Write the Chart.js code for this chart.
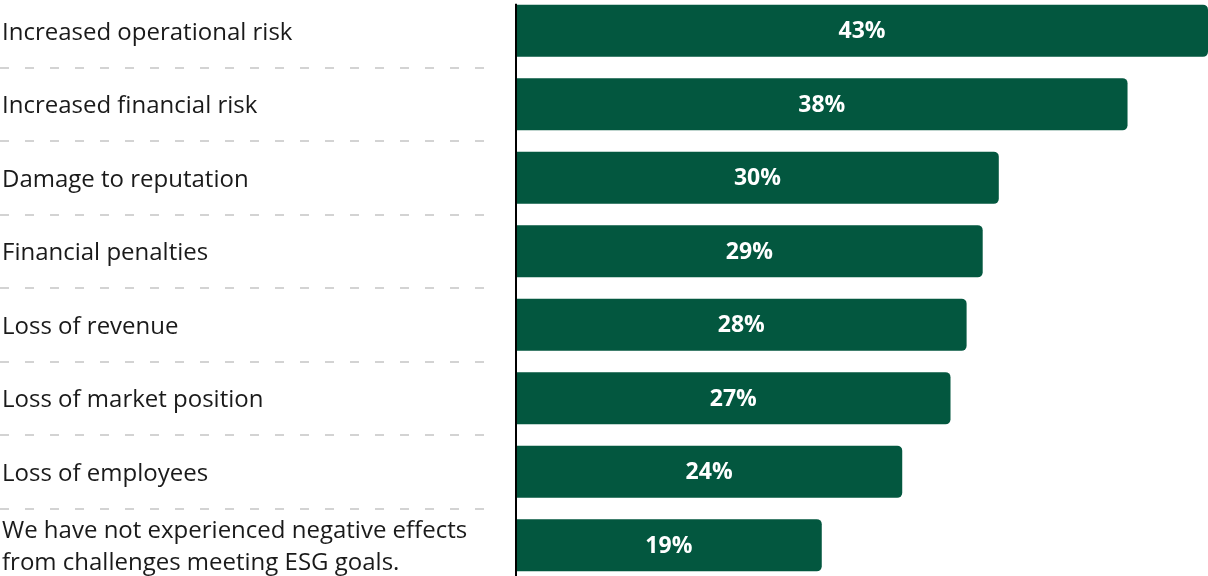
<!DOCTYPE html>
<html>
<head>
<meta charset="utf-8">
<script src="https://cdn.jsdelivr.net/npm/chart.js@4.4.0/dist/chart.umd.min.js"></script>
<style>
  html, body { margin: 0; padding: 0; background: #fff; overflow: hidden; }
  #wrap { position: absolute; left: 0; top: -6px; width: 1208px; height: 588px; }
</style>
</head>
<body>
<div id="wrap"><canvas id="chart"></canvas></div>
<script>
const categories = [
  'Increased operational risk',
  'Increased financial risk',
  'Damage to reputation',
  'Financial penalties',
  'Loss of revenue',
  'Loss of market position',
  'Loss of employees',
  ['We have not experienced negative effects', 'from challenges meeting ESG goals.']
];
const values = [43, 38, 30, 29, 28, 27, 24, 19];

const barColor = '#03573f';

// dashed separators in the label column + axis line + value labels
const extras = {
  id: 'extras',
  afterDatasetsDraw(chart) {
    const ctx = chart.ctx;
    const y = chart.scales.y;
    const meta = chart.getDatasetMeta(0);
    ctx.save();
    ctx.strokeStyle = '#d3d3d3';
    ctx.lineWidth = 2;
    ctx.setLineDash([9, 16]);
    for (let i = 0; i < categories.length - 1; i++) {
      const yy = Math.round((y.getPixelForValue(i) + y.getPixelForValue(i + 1)) / 2);
      ctx.beginPath();
      ctx.moveTo(0, yy);
      ctx.lineTo(496, yy);
      ctx.stroke();
    }
    ctx.setLineDash([]);

    // axis line
    const first = meta.data[0];
    const top = first.y - first.height / 2 - 1;
    ctx.strokeStyle = '#000';
    ctx.lineWidth = 2;
    ctx.beginPath();
    ctx.moveTo(chart.chartArea.left, top);
    ctx.lineTo(chart.chartArea.left, chart.chartArea.bottom);
    ctx.stroke();

    // value labels
    ctx.fillStyle = '#fff';
    ctx.font = 'bold 23px "Open Sans"';
    ctx.textAlign = 'center';
    ctx.textBaseline = 'middle';
    meta.data.forEach((bar, i) => {
      ctx.fillText(values[i] + '%', (bar.base + bar.x) / 2, bar.y + 1);
    });
    ctx.restore();
  }
};

new Chart(document.getElementById('chart'), {
  type: 'bar',
  data: {
    labels: categories,
    datasets: [{
      data: values,
      backgroundColor: barColor,
      borderRadius: { topLeft: 0, bottomLeft: 0, topRight: 5, bottomRight: 5 },
      borderSkipped: false,
      categoryPercentage: 1,
      barPercentage: 0.71
    }]
  },
  options: {
    indexAxis: 'y',
    responsive: true,
    maintainAspectRatio: false,
    animation: false,
    layout: { padding: { left: 2, right: 0, top: 0, bottom: 0 } },
    plugins: {
      legend: { display: false },
      tooltip: { enabled: false }
    },
    scales: {
      x: {
        display: false,
        min: 0,
        max: 43
      },
      y: {
        grid: { display: false, drawTicks: false },
        border: { display: false },
        afterFit(scale) {
          scale.width = 514;
          scale.paddingTop = 0;
          scale.paddingBottom = 0;
        },
        ticks: {
          crossAlign: 'far',
          color: '#1a1a1a',
          padding: 0,
          labelOffset: 2,
          font: { family: 'Open Sans', size: 24, lineHeight: 1.33 }
        }
      }
    }
  },
  plugins: [extras]
});
</script>
</body>
</html>
